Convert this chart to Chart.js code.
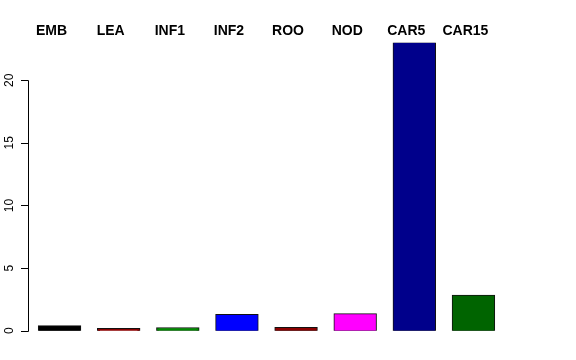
<!DOCTYPE html>
<html><head><meta charset="utf-8">
<script src="https://cdn.jsdelivr.net/npm/chart.js@4"></script>
<style>html,body{margin:0;padding:0;background:#fff}#wrap{width:576px;height:360px}</style>
</head><body><div id="wrap"><canvas id="c" width="576" height="360"></canvas></div>
<script>
const categories = ["EMB","LEA","INF1","INF2","ROO","NOD","CAR5","CAR15"];
const values = [0.35, 0.13, 0.2, 1.25, 0.22, 1.32, 23.0, 2.8];
const barColors = ["#000000","#8B0000","#008B00","#0000FF","#8B0000","#FF00FF","#00008B","#006400"];
const yTicks = [0, 5, 10, 15, 20];

const rAxis = {
  id: 'rAxis',
  afterDraw(chart) {
    const ctx = chart.ctx, y = chart.scales.y;
    const ax = 28;
    ctx.save();
    ctx.strokeStyle = '#000'; ctx.lineWidth = 1;
    ctx.beginPath();
    ctx.moveTo(ax + 0.5, Math.round(y.getPixelForValue(yTicks[0])) + 0.5);
    ctx.lineTo(ax + 0.5, Math.round(y.getPixelForValue(yTicks[yTicks.length - 1])) + 0.5);
    yTicks.forEach(t => {
      const p = Math.round(y.getPixelForValue(t)) + 0.5;
      ctx.moveTo(ax + 0.5, p); ctx.lineTo(ax - 7, p);
    });
    ctx.stroke();
    ctx.fillStyle = '#000';
    ctx.font = '12px "Liberation Sans", Arial, sans-serif';
    ctx.textAlign = 'center'; ctx.textBaseline = 'middle';
    yTicks.forEach(t => {
      const p = y.getPixelForValue(t);
      ctx.save(); ctx.translate(10, p); ctx.rotate(-Math.PI / 2);
      ctx.fillText(String(t), 0, 0); ctx.restore();
    });
    ctx.restore();
  }
};

new Chart(document.getElementById('c'), {
  type: 'bar',
  data: {
    labels: categories,
    datasets: [{
      data: values,
      backgroundColor: barColors,
      borderColor: '#111',
      borderWidth: 1,
      borderSkipped: false,
      inflateAmount: 1,
      categoryPercentage: 1.0,
      barPercentage: 0.7
    }]
  },
  options: {
    responsive: false,
    animation: false,
    devicePixelRatio: 1,
    layout: { padding: { left: 30, right: 73, top: 12.7, bottom: 29.3 } },
    plugins: { legend: { display: false }, tooltip: { enabled: false } },
    scales: {
      x: {
        position: 'top',
        offset: true,
        grid: { display: false },
        border: { display: false },
        ticks: {
          color: '#000',
          font: { family: '"Liberation Sans", Arial, sans-serif', size: 14, weight: 'bold' },
          labelOffset: -8,
          padding: -5,
          maxRotation: 0, minRotation: 0, autoSkip: false
        },
        afterFit(s) { s.height = 30; }
      },
      y: {
        display: false,
        min: 0,
        max: 23,
        ticks: { stepSize: 5 }
      }
    }
  },
  plugins: [rAxis]
});
</script>
</body></html>
